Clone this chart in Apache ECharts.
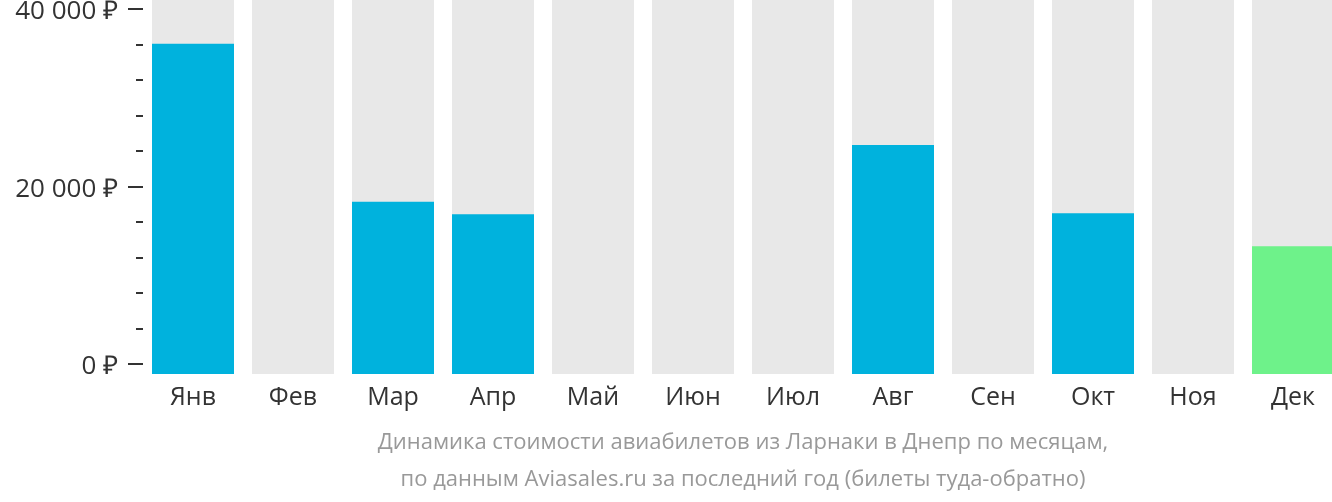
<!DOCTYPE html>
<html>
<head>
<meta charset="utf-8">
<script src="https://cdn.jsdelivr.net/npm/echarts@6/dist/echarts.min.js"></script>
<style>
html,body{margin:0;padding:0;background:#fff;}
#c{width:1332px;height:502px;}
</style>
</head>
<body>
<div id="c"></div>
<script>
const months = ['Янв','Фев','Мар','Апр','Май','Июн','Июл','Авг','Сен','Окт','Ноя','Дек'];
const prices = [37200, null, 19400, 18000, null, null, null, 25800, null, 18100, null, 14400];
const cheapestIndex = 11;
const yTicks = [0, 20000, 40000];
const titleLines = ['Динамика стоимости авиабилетов из Ларнаки в Днепр по месяцам,',
                    'по данным Aviasales.ru за последний год (билеты туда-обратно)'];

const chart = echarts.init(document.getElementById('c'));
const fmt = v => '{p|' + (v === 0 ? '0' : String(v).replace(/\B(?=(\d{3})+(?!\d))/g, ' ')) + ' ₽}';

chart.setOption({
  animation: false,
  grid: [
    {left: 143, width: 1200, top: 0, bottom: 128, outerBoundsMode: 'none', containLabel: false},
    {left: 143, width: 1200, top: 9, bottom: 138, outerBoundsMode: 'none', containLabel: false}
  ],
  xAxis: [
    {type: 'category', gridIndex: 0, data: months,
     axisLine: {show: false}, axisTick: {show: false},
     axisLabel: {color: '#333', fontSize: 25, fontFamily: 'Open Sans', margin: 11}},
    {type: 'category', gridIndex: 1, data: months, show: false}
  ],
  yAxis: [
    {type: 'value', gridIndex: 0, min: 0, max: 42140, show: false},
    {type: 'value', gridIndex: 1, min: yTicks[0], max: yTicks[2], interval: yTicks[1] - yTicks[0],
     axisLine: {show: false},
     splitLine: {show: false},
     axisTick: {show: true, length: 15, lineStyle: {color: '#333', width: 2}},
     minorTick: {show: true, splitNumber: 5, length: 7, lineStyle: {color: '#333', width: 2}},
     axisLabel: {color: '#333', fontSize: 26, fontFamily: 'Open Sans', margin: 25, formatter: fmt,
       rich: {p: {color: '#333', fontSize: 26, fontFamily: 'Open Sans', padding: [6, 0, 0, 0]}}}}
  ],
  series: [{
    type: 'bar',
    xAxisIndex: 0, yAxisIndex: 0,
    barCategoryGap: '18%',
    showBackground: true,
    backgroundStyle: {color: '#e8e8e8'},
    data: prices.map((v, i) => ({value: v === null ? '-' : v,
      itemStyle: {color: i === cheapestIndex ? '#6ef28a' : '#00b2dd'}}))
  }],
  graphic: titleLines.map((t, i) => ({
    type: 'text', x: 743, y: 443 + i * 37,
    style: {text: t, fill: '#999', font: '22px "Open Sans"', textAlign: 'center', textVerticalAlign: 'middle'}
  }))
});
</script>
</body>
</html>
